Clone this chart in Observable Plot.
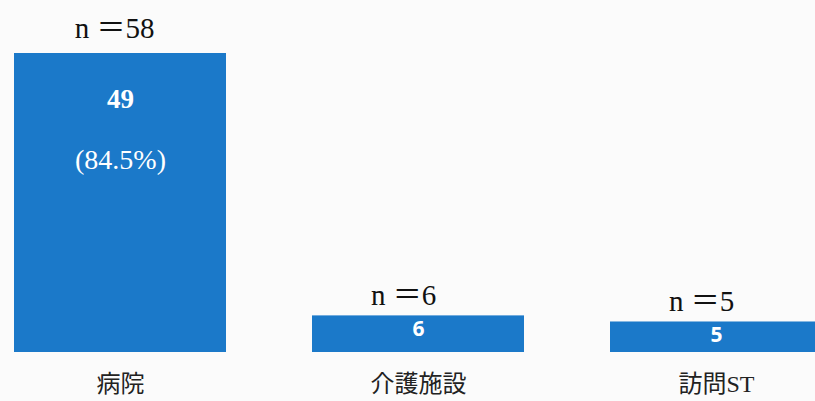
<!DOCTYPE html>
<html>
<head>
<meta charset="utf-8">
<script src="https://cdn.jsdelivr.net/npm/d3@7"></script>
<script src="https://cdn.jsdelivr.net/npm/@observablehq/plot@0.6"></script>
<style>
  html, body { margin: 0; padding: 0; overflow: hidden; background: #fbfbfb; }
  #chart svg { display: block; overflow: hidden; }
</style>
</head>
<body>
<div id="chart"></div>
<script>
const categories = ["病院", "介護施設", "訪問ST"];
const counts = [49, 6, 5];
const nLabels = ["n ＝58", "n ＝6", "n ＝5"];
const innerLabels = ["49", "6", "5"];
const percentLabels = ["(84.5%)", "", ""];

const data = categories.map((c, i) => ({
  cat: categories[i], value: counts[i], n: nLabels[i], inner: innerLabels[i], pct: percentLabels[i]
}));
const big = data.filter(d => d.pct !== "");
const small = data.filter(d => d.pct === "");

const serif = "'Liberation Serif', 'Noto Sans CJK JP', serif";
const blue = "#1b79c9";

const chart = Plot.plot({
  width: 815,
  height: 401,
  marginTop: 53,
  marginBottom: 49,
  marginLeft: 0,
  marginRight: 0,
  style: { background: "transparent", overflow: "hidden" },
  x: { domain: categories, range: [-30.3, 865.2], paddingInner: 0.29, paddingOuter: 0.145, axis: null },
  y: { domain: [0, 49], axis: null },
  marks: [
    Plot.barY(data, { x: "cat", y: "value", fill: blue }),
    Plot.text(big, { x: "cat", y: "value", text: "n", dy: -25, dx: -6, fontSize: 29, fontFamily: serif, fill: "#111" }),
    Plot.text(small, { x: "cat", y: "value", text: "n", dy: -20, dx: -15, fontSize: 29, fontFamily: serif, fill: "#111" }),
    Plot.text(big, { x: "cat", y: "value", text: "inner", dy: 46, fontSize: 27, fontFamily: serif, fill: "white", fontWeight: "bold" }),
    Plot.text(big, { x: "cat", y: "value", text: "pct", dy: 107, fontSize: 28, fontFamily: serif, fill: "white", letterSpacing: "2px" }),
    Plot.text(small, { x: "cat", y: "value", text: "inner", dy: 13, fontSize: 21, fontFamily: "'Open Sans', sans-serif", fill: "white", fontWeight: "bold" }),
    Plot.axisX({ tickSize: 0, tickPadding: 22, fontSize: 24, fontFamily: serif, fill: "#222", label: null })
  ]
});
document.getElementById("chart").appendChild(chart);
</script>
</body>
</html>
